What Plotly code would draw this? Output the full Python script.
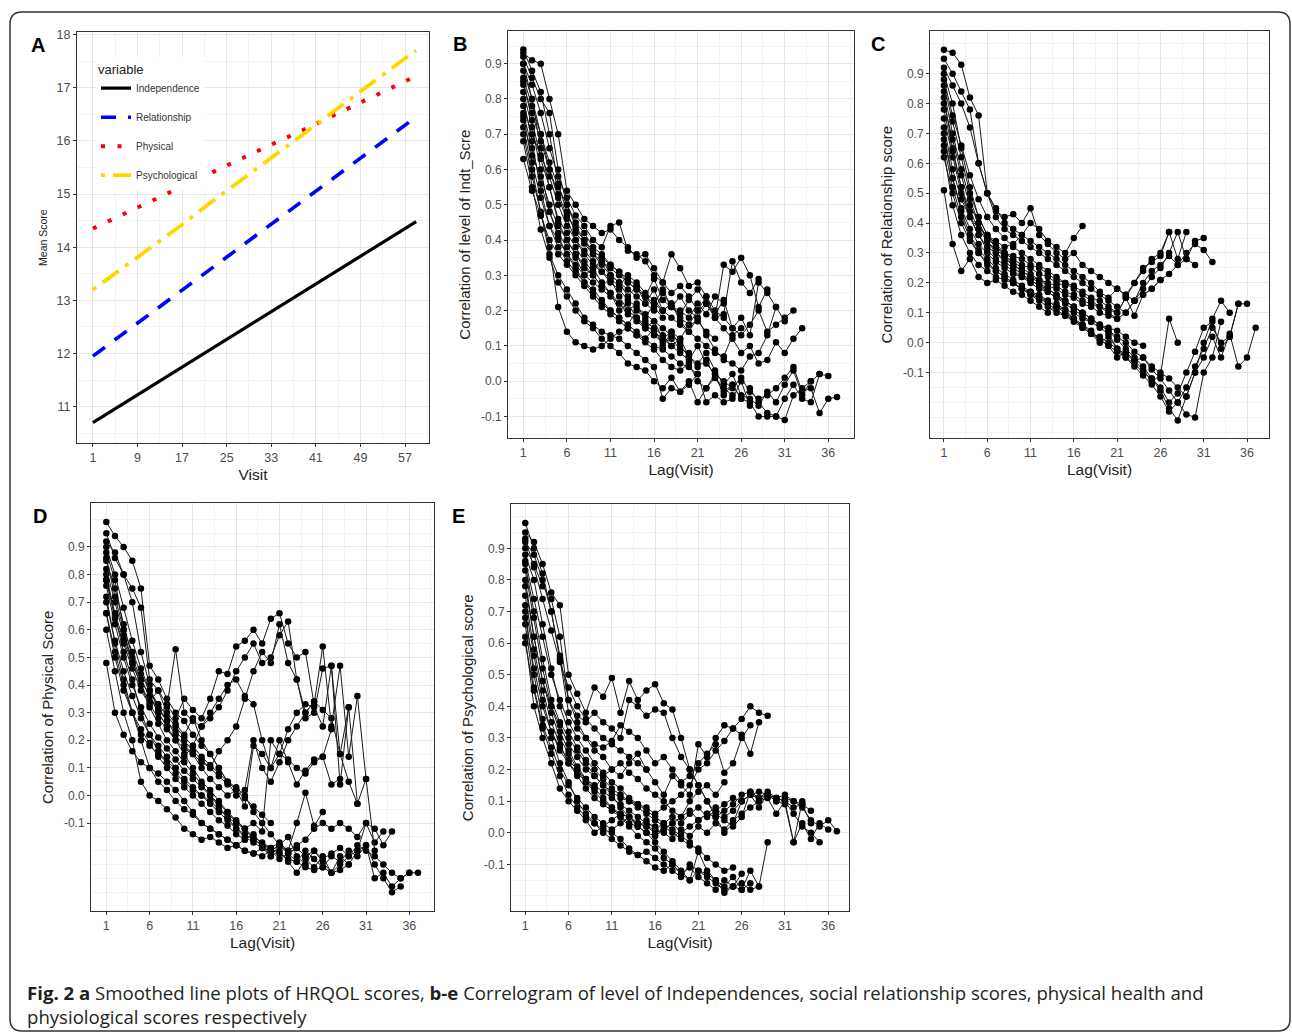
import plotly.graph_objects as go

W, H = 1292, 1033

# ---------------- Panel A data (mean scores by visit) ----------------
visit = [1, 5, 9, 13, 17, 21, 25, 29, 33, 37, 41, 45, 49, 53, 57, 59]
independence = [10.70, 10.96, 11.22, 11.48, 11.74, 12.00, 12.26, 12.52, 12.78, 13.04, 13.30, 13.56, 13.83, 14.09, 14.35, 14.48]
relationship = [11.95, 12.26, 12.57, 12.88, 13.19, 13.50, 13.81, 14.12, 14.43, 14.74, 15.05, 15.36, 15.67, 15.98, 16.29, 16.45]
physical = [14.35, 14.55, 14.75, 14.95, 15.15, 15.35, 15.55, 15.73, 15.93, 16.12, 16.32, 16.53, 16.73, 16.93, 17.13, 17.22]
psychological = [13.20, 13.50, 13.80, 14.12, 14.42, 14.75, 15.05, 15.37, 15.68, 15.98, 16.30, 16.62, 16.94, 17.24, 17.55, 17.70]

# ---------------- Correlogram data (each list = one line, lag 1..n) ----------------
indt_corr = [
    [0.75,0.62,0.52,0.44,0.40,0.36,0.33,0.30,0.28,0.26,0.24,0.22,0.20,0.18,0.16,0.14,0.12,0.10,0.08,0.06,0.10,0.05,0.02,0.00,-0.02,0.01,-0.03,-0.05,-0.04,-0.02,0.01,0.04,-0.03,-0.02,-0.09,-0.05,-0.045],
    [0.82,0.72,0.60,0.48,0.42,0.38,0.35,0.30,0.32,0.28,0.25,0.20,0.22,0.18,0.15,0.17,0.12,0.14,0.10,0.07,0.05,0.08,0.03,-0.01,0.02,-0.04,-0.05,-0.07,-0.03,-0.06,-0.01,0.03,-0.04,0.00,0.02,0.015],
    [0.88,0.80,0.66,0.55,0.45,0.40,0.36,0.33,0.30,0.27,0.29,0.24,0.20,0.22,0.17,0.15,0.13,0.10,0.12,0.07,0.04,0.06,0.01,-0.03,-0.01,-0.05,-0.02,-0.06,-0.09,-0.10,-0.05,-0.01,-0.05,-0.06,0.02],
    [0.70,0.58,0.48,0.38,0.21,0.14,0.11,0.10,0.09,0.10,0.12,0.14,0.15,0.13,0.11,0.09,0.06,0.04,0.03,0.05,0.00,-0.02,0.02,-0.04,-0.01,-0.05,-0.06,-0.10,-0.10,-0.10,-0.11,-0.04,-0.02,0.00],
    [0.93,0.91,0.90,0.80,0.70,0.54,0.50,0.46,0.44,0.42,0.43,0.40,0.38,0.35,0.36,0.32,0.28,0.25,0.27,0.24,0.20,0.22,0.18,0.15,0.12,0.08,0.10,0.05,0.06,0.11,0.08,0.12,0.15],
    [0.90,0.84,0.76,0.66,0.58,0.52,0.47,0.44,0.40,0.38,0.44,0.45,0.37,0.36,0.34,0.30,0.28,0.36,0.32,0.27,0.28,0.24,0.20,0.18,0.15,0.13,0.16,0.20,0.14,0.16,0.18,0.20],
    [0.85,0.74,0.63,0.55,0.46,0.42,0.38,0.34,0.31,0.35,0.30,0.28,0.24,0.27,0.22,0.26,0.20,0.22,0.17,0.14,0.18,0.13,0.09,0.06,0.05,0.03,0.07,0.08,0.13,0.21,0.17],
    [0.76,0.66,0.56,0.48,0.41,0.36,0.32,0.28,0.25,0.22,0.20,0.18,0.16,0.20,0.18,0.22,0.26,0.21,0.24,0.20,0.18,0.22,0.19,0.23,0.15,0.18,0.13,0.28,0.25,0.21],
    [0.92,0.86,0.80,0.76,0.60,0.50,0.44,0.40,0.36,0.33,0.30,0.28,0.26,0.24,0.22,0.20,0.25,0.21,0.19,0.23,0.26,0.22,0.18,0.33,0.31,0.35,0.30,0.21,0.26],
    [0.80,0.68,0.54,0.44,0.38,0.34,0.31,0.28,0.26,0.23,0.20,0.18,0.16,0.14,0.12,0.15,0.10,0.14,0.12,0.16,0.20,0.24,0.18,0.19,0.34,0.28,0.25,0.29],
    [0.72,0.60,0.47,0.36,0.30,0.26,0.22,0.18,0.16,0.14,0.13,0.12,0.10,0.08,0.06,0.04,-0.05,-0.02,-0.03,-0.01,0.02,-0.06,-0.04,-0.06,-0.05,0.00,-0.07],
    [0.86,0.78,0.70,0.60,0.52,0.46,0.40,0.36,0.33,0.31,0.29,0.27,0.30,0.28,0.25,0.23,0.20,0.18,0.16,0.14,0.12,0.10,0.08,0.07,0.13,0.15],
    [0.68,0.55,0.43,0.35,0.28,0.24,0.20,0.17,0.15,0.12,0.10,0.08,0.05,0.04,0.03,0.00,-0.02,0.01,-0.03,0.00,-0.06,-0.02,0.01,-0.02,-0.04],
    [0.94,0.88,0.82,0.70,0.56,0.48,0.42,0.39,0.36,0.34,0.32,0.30,0.28,0.26,0.24,0.29,0.23,0.21,0.20,0.18,0.22,0.19,0.24,0.22],
    [0.63,0.54,0.47,0.40,0.36,0.33,0.30,0.27,0.24,0.21,0.19,0.17,0.15,0.13,0.12,0.10,0.09,0.07,0.05,0.04,0.02],
    [0.78,0.70,0.64,0.58,0.50,0.44,0.40,0.37,0.34,0.31,0.28,0.26,0.23,0.21,0.19,0.17,0.15,0.13,0.11],
    [0.90,0.80,0.70,0.62,0.55,0.50,0.45,0.42,0.38,0.36,0.33,0.31,0.28,0.26,0.24,0.22,0.20,0.22,0.18,0.16,0.17,0.14,0.12],
    [0.74,0.64,0.58,0.50,0.44,0.40,0.36,0.32,0.30,0.27,0.25,0.22,0.19,0.17,0.15,0.13,0.11,0.12,0.09,0.08],
    [0.84,0.76,0.68,0.60,0.53,0.47,0.43,0.40,0.37,0.35,0.33,0.31,0.29,0.27,0.24,0.21,0.18],
]

rel_corr = [
    [0.70,0.55,0.45,0.38,0.33,0.30,0.27,0.25,0.23,0.22,0.20,0.18,0.17,0.15,0.14,0.12,0.10,0.08,0.06,0.04,0.02,0.00,-0.03,-0.05,-0.08,-0.10,-0.12,-0.15,-0.18,-0.10,-0.05,0.02,-0.05,0.03,-0.08,-0.05,0.05],
    [0.82,0.65,0.52,0.42,0.36,0.31,0.28,0.26,0.24,0.22,0.21,0.19,0.17,0.15,0.13,0.11,0.09,0.07,0.05,0.03,-0.02,-0.05,-0.07,-0.10,-0.12,-0.15,-0.20,-0.17,-0.10,-0.03,0.05,0.07,-0.02,0.02,0.13,0.13],
    [0.62,0.50,0.40,0.34,0.30,0.27,0.24,0.22,0.20,0.18,0.16,0.15,0.13,0.11,0.09,0.08,0.06,0.03,0.01,-0.01,-0.03,-0.05,-0.08,-0.11,-0.14,-0.18,-0.23,-0.20,-0.15,-0.08,-0.02,0.05,0.00,0.02,0.13],
    [0.90,0.80,0.65,0.52,0.42,0.36,0.32,0.29,0.26,0.24,0.22,0.20,0.18,0.16,0.14,0.12,0.10,0.08,0.06,0.04,0.01,-0.02,-0.05,-0.08,-0.12,-0.16,-0.22,-0.26,-0.18,-0.10,0.00,0.08,0.14,0.10],
    [0.51,0.33,0.24,0.28,0.22,0.20,0.21,0.19,0.17,0.16,0.14,0.12,0.10,0.13,0.11,0.08,0.05,0.03,0.00,0.02,-0.02,-0.04,-0.06,-0.05,-0.09,-0.12,-0.16,-0.20,-0.24,-0.25,-0.10,-0.05,0.07],
    [0.98,0.97,0.93,0.82,0.76,0.50,0.45,0.40,0.38,0.36,0.34,0.32,0.30,0.28,0.26,0.24,0.22,0.20,0.17,0.15,0.18,0.16,0.14,0.20,0.24,0.26,0.29,0.26,0.30,0.33,0.31,0.27],
    [0.92,0.86,0.80,0.72,0.60,0.50,0.42,0.38,0.36,0.34,0.32,0.30,0.28,0.26,0.24,0.22,0.20,0.18,0.16,0.14,0.12,0.10,0.14,0.18,0.22,0.25,0.30,0.37,0.28,0.34,0.35],
    [0.75,0.62,0.50,0.42,0.36,0.32,0.30,0.28,0.26,0.24,0.22,0.21,0.19,0.18,0.16,0.15,0.13,0.12,0.10,0.09,0.08,0.10,0.14,0.16,0.18,0.21,0.23,0.26,0.28,0.26],
    [0.86,0.74,0.62,0.50,0.42,0.36,0.33,0.30,0.29,0.28,0.26,0.25,0.23,0.21,0.20,0.19,0.17,0.15,0.14,0.12,0.10,0.15,0.20,0.25,0.27,0.29,0.37,0.28,0.37],
    [0.68,0.55,0.44,0.36,0.31,0.28,0.25,0.23,0.21,0.19,0.17,0.16,0.14,0.12,0.10,0.08,0.06,0.04,0.01,-0.01,-0.05,-0.03,-0.06,-0.09,-0.13,-0.11,0.08,0.00],
    [0.95,0.90,0.84,0.78,0.60,0.50,0.44,0.42,0.43,0.40,0.45,0.36,0.33,0.30,0.28,0.30,0.26,0.24,0.22,0.20,0.18,0.16,0.20,0.24,0.28,0.30,0.37],
    [0.78,0.64,0.52,0.44,0.38,0.34,0.31,0.29,0.27,0.25,0.23,0.21,0.20,0.19,0.17,0.16,0.14,0.13,0.12,0.11,0.10,0.15,0.09,0.16,0.18,0.21],
    [0.72,0.58,0.48,0.42,0.38,0.36,0.34,0.32,0.33,0.36,0.40,0.38,0.34,0.32,0.30,0.35,0.39],
    [0.66,0.52,0.42,0.35,0.30,0.26,0.24,0.22,0.20,0.18,0.16,0.14,0.12,0.10,0.09,0.07,0.05,0.03,0.02,0.00,-0.02,-0.04],
    [0.84,0.70,0.58,0.48,0.40,0.34,0.30,0.27,0.25,0.23,0.21,0.19,0.18,0.16,0.14,0.12,0.10,0.08,0.06,0.05,0.04,0.02,0.00,-0.01],
    [0.88,0.76,0.66,0.56,0.48,0.42,0.38,0.35,0.32,0.30,0.28,0.26,0.24,0.22,0.20,0.18,0.16,0.14,0.12,0.10,0.08],
    [0.64,0.46,0.36,0.30,0.26,0.24,0.22,0.21,0.20,0.18,0.17,0.15,0.14,0.12,0.11,0.10,0.08,0.07],
    [0.80,0.68,0.56,0.46,0.40,0.35,0.32,0.30,0.28,0.26,0.25,0.23,0.22,0.20,0.19],
]

phys_corr = [
    [0.80,0.65,0.52,0.42,0.30,0.22,0.16,0.12,0.08,0.05,0.02,0.00,-0.03,-0.06,-0.09,-0.12,-0.15,-0.17,-0.19,-0.20,-0.18,-0.21,-0.19,-0.22,-0.20,-0.23,-0.21,-0.19,-0.22,-0.18,-0.20,-0.22,-0.25,-0.28,-0.30,-0.28,-0.28],
    [0.72,0.55,0.42,0.30,0.20,0.10,0.05,0.02,-0.02,-0.05,-0.07,-0.10,-0.12,-0.14,-0.16,-0.18,-0.20,-0.21,-0.22,-0.20,-0.23,-0.21,-0.24,-0.20,-0.23,-0.26,-0.22,-0.24,-0.20,-0.22,-0.18,-0.30,-0.28,-0.33,-0.30,-0.28],
    [0.60,0.45,0.30,0.20,0.05,0.00,-0.02,-0.05,-0.08,-0.12,-0.14,-0.16,-0.15,-0.17,-0.19,-0.18,-0.20,-0.21,-0.19,-0.22,-0.20,-0.24,-0.28,-0.23,-0.26,-0.22,-0.28,-0.25,-0.22,-0.20,-0.18,-0.25,-0.30,-0.35,-0.33],
    [0.92,0.88,0.80,0.70,0.52,0.40,0.30,0.25,0.20,0.15,0.10,0.05,0.02,-0.02,-0.06,-0.10,-0.12,-0.16,-0.18,-0.19,-0.17,-0.20,-0.18,-0.16,-0.12,-0.10,-0.12,-0.10,-0.12,-0.15,-0.10,-0.12,-0.18,-0.13],
    [0.99,0.94,0.90,0.85,0.75,0.47,0.42,0.35,0.30,0.27,0.22,0.18,0.15,0.10,0.05,0.03,0.00,-0.06,-0.10,-0.14,-0.18,-0.15,-0.22,-0.25,-0.20,-0.24,-0.28,-0.22,-0.25,-0.20,-0.10,-0.17,-0.13],
    [0.85,0.75,0.62,0.50,0.42,0.36,0.30,0.32,0.53,0.30,0.27,0.25,0.28,0.32,0.38,0.45,0.50,0.55,0.48,0.50,0.58,0.63,0.42,0.30,0.34,0.31,0.28,0.15,0.05,-0.03,0.06,-0.20],
    [0.95,0.86,0.80,0.75,0.68,0.42,0.38,0.33,0.28,0.35,0.31,0.28,0.35,0.45,0.44,0.54,0.56,0.60,0.55,0.64,0.66,0.55,0.50,0.52,0.33,0.54,0.25,0.47,0.14,0.36,0.06],
    [0.78,0.64,0.55,0.46,0.38,0.33,0.28,0.24,0.20,0.17,0.15,0.12,0.10,0.16,0.20,0.25,0.35,0.45,0.52,0.48,0.62,0.48,0.42,0.28,0.30,0.46,0.47,0.04,0.32,-0.03],
    [0.66,0.52,0.40,0.30,0.22,0.18,0.15,0.12,0.10,0.14,0.18,0.25,0.30,0.35,0.40,0.42,0.36,0.33,0.20,0.10,0.15,0.24,0.30,0.33,0.32,0.25,0.47,0.15,0.32],
    [0.90,0.80,0.68,0.56,0.46,0.38,0.32,0.27,0.22,0.18,0.15,0.10,0.06,0.03,0.00,0.02,-0.04,0.18,0.15,0.10,0.20,0.12,0.04,0.09,0.13,0.14,0.04,0.06],
    [0.70,0.56,0.45,0.36,0.28,0.22,0.18,0.14,0.10,0.06,0.03,0.00,-0.02,-0.05,-0.08,-0.10,-0.12,-0.10,-0.13,0.20,0.15,0.13,0.10,0.08,0.12,0.14,0.24],
    [0.48,0.30,0.22,0.16,0.12,0.10,0.08,0.05,0.02,-0.02,-0.06,-0.10,-0.12,-0.14,-0.16,-0.18,-0.16,-0.14,-0.18,-0.22,-0.18,-0.20,-0.10,0.01,-0.11,-0.06],
    [0.88,0.78,0.60,0.48,0.40,0.34,0.38,0.30,0.26,0.22,0.28,0.20,0.15,0.10,0.05,0.00,0.02,0.20,0.10,0.05,0.12,0.20,0.25,0.30,0.34],
    [0.82,0.70,0.58,0.48,0.40,0.32,0.26,0.20,0.16,0.12,0.08,0.04,0.00,-0.04,-0.08,-0.12,-0.14,-0.16,-0.18,-0.20,-0.18,-0.21,-0.19,-0.22],
    [0.76,0.62,0.50,0.40,0.32,0.26,0.21,0.17,0.13,0.09,0.06,0.03,0.00,-0.03,-0.06,-0.09,-0.12,-0.15,-0.17,-0.19,-0.21,-0.23,-0.24,-0.26,-0.27,-0.26,-0.28,-0.27,-0.25],
    [0.86,0.72,0.60,0.52,0.44,0.38,0.33,0.29,0.25,0.21,0.18,0.14,0.11,0.08,0.05,0.02,-0.01,-0.04,-0.07,-0.10],
    [0.66,0.50,0.38,0.30,0.24,0.19,0.14,0.10,0.06,0.03,0.00,-0.03,-0.06,-0.09,-0.11,-0.14,-0.16],
    [0.78,0.66,0.56,0.48,0.42,0.36,0.31,0.27,0.23,0.20,0.16,0.13,0.10,0.07,0.04],
]

psych_corr = [
    [0.80,0.62,0.48,0.38,0.30,0.25,0.20,0.16,0.13,0.10,0.08,0.06,0.05,0.03,0.02,0.01,0.00,-0.02,0.01,-0.01,0.02,0.00,0.03,0.01,0.04,0.06,0.08,0.10,0.12,0.10,0.11,0.10,0.08,0.04,0.02,0.04,0.005],
    [0.75,0.58,0.45,0.35,0.28,0.22,0.18,0.14,0.11,0.09,0.07,0.05,0.03,0.02,0.00,-0.01,0.01,0.03,0.00,0.02,0.04,0.06,0.05,0.07,0.09,0.12,0.13,0.11,0.12,0.10,0.09,-0.03,0.03,-0.02,0.03,0.01],
    [0.62,0.40,0.30,0.22,0.14,0.10,0.07,0.04,0.00,0.02,0.04,0.06,0.05,0.03,0.02,0.00,0.01,0.03,0.05,0.07,0.04,0.06,0.08,0.05,0.07,0.10,0.12,0.08,0.12,0.11,0.10,0.06,0.02,0.00,-0.03],
    [0.95,0.92,0.85,0.76,0.72,0.50,0.44,0.38,0.46,0.43,0.49,0.38,0.48,0.42,0.45,0.47,0.41,0.39,0.30,0.20,0.15,0.10,0.06,0.04,0.02,0.05,0.13,0.10,0.11,0.06,0.10,0.08,0.09,0.03],
    [0.90,0.85,0.78,0.74,0.62,0.42,0.37,0.35,0.38,0.35,0.33,0.30,0.42,0.40,0.37,0.39,0.38,0.30,0.24,0.20,0.15,0.10,0.05,0.00,0.03,0.10,0.12,0.13,0.12,0.11,0.10,-0.03,0.10],
    [0.70,0.50,0.36,0.30,0.22,0.16,0.10,0.06,0.03,0.01,0.00,-0.02,-0.05,-0.07,-0.06,-0.08,-0.10,-0.12,-0.14,-0.10,-0.12,-0.13,-0.15,-0.17,-0.14,-0.18,-0.12,-0.17],
    [0.85,0.70,0.55,0.42,0.35,0.30,0.26,0.22,0.18,0.15,0.12,0.08,0.05,0.02,0.00,-0.03,-0.06,-0.09,-0.12,-0.15,-0.06,-0.12,-0.15,-0.19,-0.17,-0.16,-0.18,-0.17,-0.03],
    [0.92,0.88,0.80,0.70,0.55,0.38,0.33,0.30,0.26,0.24,0.20,0.18,0.22,0.25,0.20,0.16,0.12,0.18,0.15,0.12,0.28,0.24,0.30,0.34,0.33,0.36,0.40,0.38,0.37],
    [0.78,0.62,0.48,0.40,0.34,0.28,0.24,0.20,0.18,0.15,0.13,0.11,0.10,0.09,0.08,0.06,0.08,0.10,0.12,0.15,0.20,0.22,0.26,0.29,0.33,0.31,0.25,0.35],
    [0.98,0.90,0.82,0.70,0.56,0.42,0.35,0.30,0.28,0.27,0.29,0.34,0.32,0.30,0.26,0.22,0.24,0.20,0.16,0.18,0.22,0.25,0.28,0.19,0.22,0.30,0.34],
    [0.60,0.45,0.33,0.25,0.18,0.12,0.08,0.05,0.03,0.00,-0.02,-0.04,-0.06,-0.07,-0.09,-0.11,-0.12,-0.10,-0.13,-0.15,-0.12,-0.14,-0.16,-0.18,-0.17,-0.13],
    [0.88,0.80,0.66,0.52,0.40,0.32,0.27,0.23,0.20,0.17,0.14,0.12,0.10,0.08,0.06,0.04,0.02,0.00,-0.02,-0.04,-0.05,-0.08,-0.10,-0.12,-0.11],
    [0.72,0.56,0.42,0.32,0.26,0.22,0.19,0.16,0.14,0.18,0.20,0.22,0.19,0.17,0.14,0.12,0.10,0.07,0.05,0.10,0.13,0.15,0.12,0.16],
    [0.83,0.68,0.52,0.40,0.32,0.26,0.21,0.17,0.14,0.11,0.08,0.05,0.02,-0.01,-0.03,-0.05,-0.08,-0.10,-0.13,-0.11,-0.14,-0.16,-0.18,-0.15,-0.17,-0.18,-0.16],
    [0.66,0.46,0.34,0.27,0.20,0.15,0.11,0.08,0.05,0.03,0.01,0.03,0.05,0.02,0.04,0.01,0.03,0.05,0.03,0.06,0.08,0.05,0.07,0.09,0.11,0.10,0.12,0.11,0.13,0.11,0.12,0.10,0.09,0.07],
    [0.86,0.74,0.62,0.50,0.42,0.35,0.30,0.26,0.22,0.19,0.16,0.14,0.11,0.09,0.07,0.05,0.03,0.01,-0.01,-0.03],
    [0.68,0.52,0.40,0.32,0.27,0.23,0.20,0.17,0.15,0.13,0.11,0.09,0.07,0.05,0.03,0.02],
    [0.93,0.84,0.74,0.64,0.54,0.46,0.40,0.36,0.33,0.30,0.28,0.26,0.24,0.22,0.20],
]

# tick labels
visit_ticks = [1, 9, 17, 25, 33, 41, 49, 57]
score_ticks = [11, 12, 13, 14, 15, 16, 17, 18]
lag_ticks = [1, 6, 11, 16, 21, 26, 31, 36]
corr_ticks = [-0.1, 0.0, 0.1, 0.2, 0.3, 0.4, 0.5, 0.6, 0.7, 0.8, 0.9]
corr_labels = ["-0.1", "0.0", "0.1", "0.2", "0.3", "0.4", "0.5", "0.6", "0.7", "0.8", "0.9"]

# ---------------- layout helpers ----------------
def fx(px):
    return px / W

def fy(py):
    return 1 - py / H

FONT = "Liberation Sans, Arial, sans-serif"
TICKC = "#4D4D4D"
GRID = "#E6E6E6"
MGRID = "#F3F3F3"

# panel frames in pixels: (left, right, top, bottom)
panels = {
    "A": (77, 429, 28, 441),
    "B": (508, 854, 27, 436),
    "C": (930, 1269, 27, 436),
    "D": (91, 434, 501, 911),
    "E": (511, 849, 502, 911),
}
xranges = {"A": [-1.85, 61.3], "B": [-0.76, 38.95], "C": [-0.61, 38.54], "D": [-0.77, 38.85], "E": [-0.65, 38.4]}
yranges = {"A": [10.31, 18.05], "B": [-0.162, 0.993], "C": [-0.32, 1.043], "D": [-0.42, 1.059], "E": [-0.249, 1.04]}
ytitles = {"A": "Mean Score", "B": "Correlation of level of Indt_Scre", "C": "Correlation of Relationship score",
           "D": "Correlation of Physical Score", "E": "Correlation of Psychological score"}
corr_data = {"B": indt_corr, "C": rel_corr, "D": phys_corr, "E": psych_corr}
order = ["A", "B", "C", "D", "E"]

fig = go.Figure()
layout = dict(
    width=W, height=H, autosize=False,
    margin=dict(l=0, r=0, t=0, b=0),
    paper_bgcolor="white", plot_bgcolor="white",
    font=dict(family=FONT, color="#222"),
    showlegend=True,
)

minor_y_corr = [round(-0.35 + 0.05 * i, 2) for i in range(28)]
minor_x_lag = [-1.5 + 2.5 * i for i in range(17)]

for i, k in enumerate(order):
    n = "" if i == 0 else str(i + 1)
    l, r, t, b = panels[k]
    xa = dict(
        domain=[fx(l), fx(r)], range=xranges[k], anchor="y" + n,
        showline=True, mirror=True, linecolor="#333333", linewidth=1,
        ticks="outside", ticklen=3, tickcolor="#333333",
        showgrid=True, gridcolor=GRID, gridwidth=1, zeroline=False,
        tickfont=dict(size=12.5, color=TICKC, family=FONT),
        title=dict(text="Visit" if k == "A" else "Lag(Visit)", font=dict(size=15.5, color="#222", family=FONT), standoff=4),
    )
    ya = dict(
        domain=[fy(b), fy(t)], range=yranges[k], anchor="x" + n,
        showline=True, mirror=True, linecolor="#333333", linewidth=1,
        ticks="outside", ticklen=3, tickcolor="#333333",
        showgrid=True, gridcolor=GRID, gridwidth=1, zeroline=False,
        tickfont=dict(size=12 if k != "A" else 12.5, color=TICKC, family=FONT),
        title=dict(text=ytitles[k], font=dict(size=10.5 if k == "A" else 15, color="#222", family=FONT), standoff=6),
    )
    if k == "A":
        xa.update(tickmode="array", tickvals=visit_ticks, ticktext=[str(v) for v in visit_ticks],
                  minor=dict(tickmode="array", tickvals=[-3, 5, 13, 21, 29, 37, 45, 53, 61], showgrid=True,
                             gridcolor=MGRID, ticks=""))
        ya.update(tickmode="array", tickvals=score_ticks, ticktext=[str(v) for v in score_ticks],
                  minor=dict(tickmode="array", tickvals=[10.5, 11.5, 12.5, 13.5, 14.5, 15.5, 16.5, 17.5], showgrid=True,
                             gridcolor=MGRID, ticks=""))
    else:
        xa.update(tickmode="array", tickvals=lag_ticks, ticktext=[str(v) for v in lag_ticks],
                  minor=dict(tickmode="array", tickvals=minor_x_lag, showgrid=True, gridcolor=MGRID, ticks=""))
        ya.update(tickmode="array", tickvals=corr_ticks, ticktext=corr_labels,
                  minor=dict(tickmode="array", tickvals=minor_y_corr, showgrid=True, gridcolor=MGRID, ticks=""))
    layout["xaxis" + n] = xa
    layout["yaxis" + n] = ya

# ---------------- Panel A traces ----------------
series = [
    ("Independence", independence, "#000000", "solid", 3.2),
    ("Relationship", relationship, "#0000FF", "15px,12px", 3.6),
    ("Physical", physical, "#FF0000", "4px,12.5px", 4),
    ("Psychological", psychological, "#FFD700", "4px,8px,20px,8px", 3.8),
]
for gi, (name, vals, col, dash, wd) in enumerate(series):
    fig.add_trace(go.Scatter(
        x=visit, y=vals, mode="lines", name=name, xaxis="x", yaxis="y",
        line=dict(color=col, dash=dash, width=wd), legendgroup=str(gi), showlegend=True,
    ))

# ---------------- Correlogram traces ----------------
for i, k in enumerate(order[1:], start=1):
    n = str(i + 1)
    for line in corr_data[k]:
        fig.add_trace(go.Scatter(
            x=list(range(1, len(line) + 1)), y=line, mode="lines+markers",
            xaxis="x" + n, yaxis="y" + n, showlegend=False,
            line=dict(color="#1A1A1A", width=1),
            marker=dict(color="#000000", size=6.5),
            hoverinfo="skip",
        ))

layout["legend"] = dict(
    x=fx(96), y=fy(53), xanchor="left", yanchor="top",
    bgcolor="white", borderwidth=0,
    traceorder="grouped", tracegroupgap=10,
    font=dict(size=10, color="#333", family=FONT),
    title=dict(text="variable", font=dict(size=13, color="#222", family=FONT)),
    itemwidth=30,
)

# ---------------- annotations ----------------
ann = []
for k, (px, py) in {"A": (38, 41), "B": (460, 40), "C": (878, 40), "D": (40, 514), "E": (458, 514)}.items():
    ann.append(dict(text="<b>%s</b>" % k, x=fx(px), y=fy(py), xref="paper", yref="paper",
                    showarrow=False, xanchor="center", yanchor="middle",
                    font=dict(size=20, color="#000", family=FONT)))
CAPF = "Open Sans, sans-serif"
ann.append(dict(text="<b>Fig. 2 a</b> Smoothed line plots of HRQOL scores, <b>b-e</b> Correlogram of level of Independences, social relationship scores, physical health and",
                x=fx(25), y=fy(992), xref="paper", yref="paper", showarrow=False,
                xanchor="left", yanchor="middle", font=dict(size=18.6, color="#231F20", family=CAPF)))
ann.append(dict(text="physiological scores respectively",
                x=fx(25), y=fy(1016), xref="paper", yref="paper", showarrow=False,
                xanchor="left", yanchor="middle", font=dict(size=18.6, color="#231F20", family=CAPF)))
layout["annotations"] = ann

# rounded outer border
x0, y0, x1, y1, rr = 10, 8, 1290, 1031, 12
def P(px, py):
    return "%.5f,%.5f" % (fx(px), fy(py))
path = ("M " + P(x0 + rr, y0) + " L " + P(x1 - rr, y0) + " Q " + P(x1, y0) + " " + P(x1, y0 + rr) +
        " L " + P(x1, y1 - rr) + " Q " + P(x1, y1) + " " + P(x1 - rr, y1) +
        " L " + P(x0 + rr, y1) + " Q " + P(x0, y1) + " " + P(x0, y1 - rr) +
        " L " + P(x0, y0 + rr) + " Q " + P(x0, y0) + " " + P(x0 + rr, y0) + " Z")
layout["shapes"] = [dict(type="path", path=path, xref="paper", yref="paper",
                         line=dict(color="#333333", width=1.5), fillcolor="rgba(0,0,0,0)", layer="above")]

fig.update_layout(**layout)
post = ("document.body.style.margin='0';document.body.style.overflow='hidden';"
        "var d=document.getElementById('{plot_id}');d.style.position='absolute';"
        "d.style.left='0px';d.style.top='0px';")
fig.write_html("out.html", post_script=post, config={"displayModeBar": False})
